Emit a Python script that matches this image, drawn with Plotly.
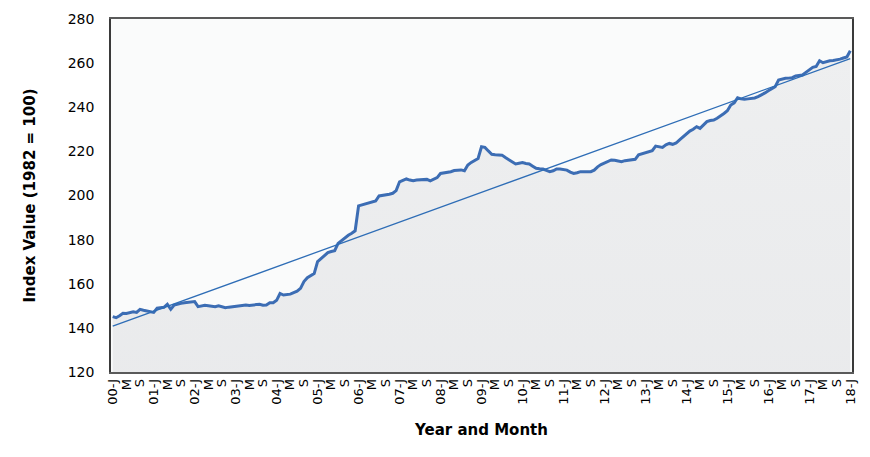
"""Index value by month, 2000-2018, with linear trend."""

import numpy as np
import plotly.graph_objects as go

# monthly index values (1982 = 100), Jan 2000 .. Jan 2018
index_2000 = [145.1, 144.6, 145.5, 146.6, 146.5, 146.9, 147.3, 147.0, 148.4, 148.0, 147.6, 147.3]
index_2001 = [147.0, 148.9, 149.0, 149.3, 150.7, 148.4, 150.3, 150.8, 151.1, 151.4, 151.6, 151.7]
index_2002 = [151.9, 149.6, 149.8, 150.2, 150.0, 149.8, 149.6, 150.0, 149.5, 149.1, 149.4, 149.6]
index_2003 = [149.9, 150.1, 150.3, 150.4, 150.2, 150.4, 150.6, 150.7, 150.3, 150.4, 151.4, 151.4]
index_2004 = [152.5, 155.6, 154.9, 155.0, 155.3, 156.0, 156.6, 157.9, 161.0, 162.7, 163.8, 164.6]
index_2005 = [170.0, 171.5, 172.8, 174.1, 174.6, 175.0, 178.3, 179.5, 181.1, 182.0, 182.9, 184.0]
index_2006 = [195.3, 195.7, 196.0, 196.7, 197.0, 197.5, 199.8, 200.0, 200.2, 200.6, 201.0, 202.2]
index_2007 = [206.2, 207.0, 207.5, 207.0, 206.7, 207.0, 207.2, 207.3, 207.3, 206.6, 207.5, 208.1]
index_2008 = [210.0, 210.2, 210.3, 210.8, 211.3, 211.5, 211.6, 211.2, 213.8, 215.0, 216.1, 216.8]
index_2009 = [222.1, 221.8, 220.2, 218.7, 218.5, 218.4, 218.3, 217.2, 216.1, 215.2, 214.3, 214.6]
index_2010 = [214.9, 214.5, 214.3, 213.3, 212.3, 212.1, 212.0, 211.4, 210.8, 211.2, 212.0, 212.0]
index_2011 = [211.7, 211.5, 210.6, 210.0, 210.3, 210.8, 210.8, 210.7, 210.8, 211.5, 213.0, 214.0]
index_2012 = [214.6, 215.3, 216.1, 216.0, 215.5, 215.3, 215.8, 216.1, 216.2, 216.4, 218.4, 218.8]
index_2013 = [219.5, 219.9, 220.3, 222.4, 222.0, 221.8, 223.0, 223.6, 223.2, 223.8, 225.2, 226.5]
index_2014 = [228.2, 229.2, 230.0, 231.2, 230.4, 232.0, 233.5, 234.0, 234.2, 235.0, 236.0, 237.2]
index_2015 = [238.4, 241.0, 242.0, 244.3, 243.8, 243.6, 243.8, 244.0, 244.2, 244.8, 245.5, 246.5]
index_2016 = [247.5, 248.5, 249.3, 252.3, 252.8, 253.1, 253.2, 253.4, 254.2, 254.4, 254.6, 255.8]
index_2017 = [256.8, 258.1, 258.5, 261.1, 260.2, 260.8, 261.1, 261.2, 261.4, 261.8, 262.3, 262.8]
index_2018 = [265.6]

years = [f"{y:02d}" for y in range(0, 19)]
tick_months = ["J", "M", "S"]

values = (index_2000 + index_2001 + index_2002 + index_2003 + index_2004 + index_2005
          + index_2006 + index_2007 + index_2008 + index_2009 + index_2010 + index_2011
          + index_2012 + index_2013 + index_2014 + index_2015 + index_2016 + index_2017
          + index_2018)
months = np.arange(len(values))

# tick every 4 months: "00-J", "M", "S", "01-J", ...
tick_vals = list(range(0, len(values), 4))
tick_text = []
for i, v in enumerate(tick_vals):
    yr, k = divmod(i, 3)
    tick_text.append(f"{years[yr]}-J" if k == 0 else tick_months[k])

# linear trend fitted to the series
slope, intercept = np.polyfit(months, values, 1)
trend = slope * months + intercept

FONT = "DejaVu Sans"

fig = go.Figure()
fig.add_trace(go.Scatter(
    x=months, y=values,
    mode="lines",
    line=dict(color="#3C6DB4", width=3),
    fill="tozeroy",
    fillgradient=dict(
        type="vertical",
        colorscale=[[0, "#E6E7E9"], [1, "#EEEFF0"]],
    ),
    showlegend=False,
))
fig.add_trace(go.Scatter(
    x=months, y=trend,
    mode="lines",
    line=dict(color="#2E6DB6", width=1.3),
    showlegend=False,
))

# page body has an 8px margin, so the figure is sized to fit inside it
fig.update_layout(
    width=862,
    height=449,
    margin=dict(l=103, r=18, t=11, b=85),
    paper_bgcolor="white",
    plot_bgcolor="#FAFBFB",
    font=dict(family=FONT, color="black"),
)
fig.update_xaxes(
    range=[-0.5, len(values) - 0.5],
    tickvals=tick_vals,
    ticktext=tick_text,
    tickangle=-90,
    tickfont=dict(size=13, color="black"),
    showgrid=False,
    zeroline=False,
    showline=True,
    mirror=True,
    linecolor="#5A5A5A",
    linewidth=1.5,
    automargin=False,
    title=dict(text="<b>Year and Month</b>", font=dict(size=15, family=FONT), standoff=21),
)
fig.update_yaxes(
    range=[120, 280],
    tickvals=list(range(120, 281, 20)),
    tickfont=dict(size=14, color="black"),
    showgrid=False,
    zeroline=False,
    showline=True,
    mirror=True,
    linecolor="#3A3A3A",
    linewidth=1.5,
    ticks="",
    ticklabelstandoff=12,
    automargin=False,
    title=dict(text="<b>Index Value (1982 = 100)</b>", font=dict(size=15, family=FONT), standoff=28),
)

fig.write_html("out.html")
